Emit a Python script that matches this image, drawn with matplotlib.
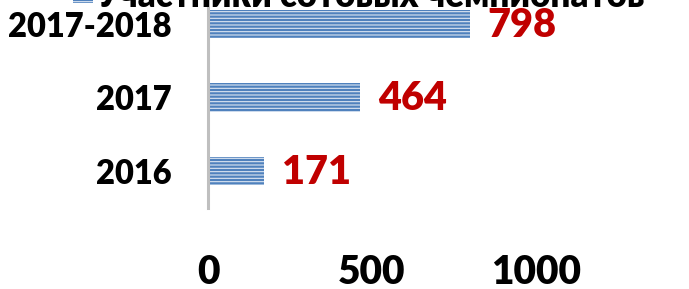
import matplotlib.pyplot as plt
from matplotlib.patches import Rectangle

# data
categories = ['2016', '2017', '2017-2018']
participants = [171, 464, 798]
series_name = 'Участники сотовых чемпионатов'
x_ticks = [0, 500, 1000]

plt.rcParams['font.family'] = ['Lato', 'Open Sans', 'DejaVu Sans']
plt.rcParams['hatch.linewidth'] = 0.8
WEIGHT = 'heavy'

W, H = 689, 289
fig = plt.figure(figsize=(W / 100, H / 100), dpi=100)
# plot area runs off the top of the image, like the cropped original
ax = fig.add_axes([208 / W, (H - 207.75) / H, 328 / W, 220.5 / H])

bars = ax.barh(range(len(categories)), participants, height=0.39,
               color='#4F81BD', edgecolor='#DCE6F2', linewidth=0, hatch='-----')

for i, v in enumerate(participants):
    ax.annotate(str(v), xy=(v, i), xytext=(13, -1), textcoords='offset points',
                va='center', ha='left', color='#C00000', fontsize=28.5,
                fontweight=WEIGHT, annotation_clip=False)

ax.set_xlim(0, 1000)
ax.set_ylim(-0.5, len(categories) - 0.5)
ax.set_xticks(x_ticks)
ax.set_xticklabels([str(t) for t in x_ticks], fontsize=28, fontweight=WEIGHT)
ax.set_yticks(range(len(categories)))
ax.set_yticklabels(categories, fontsize=23.5, fontweight=WEIGHT)
ax.tick_params(axis='x', length=0, pad=33)
ax.tick_params(axis='y', length=0, pad=26)

for side in ['top', 'right', 'bottom']:
    ax.spines[side].set_visible(False)
ax.spines['left'].set_color('#BFBFBF')
ax.spines['left'].set_linewidth(2.2)

# legend (cut off at the top of the image)
fig.patches.append(Rectangle((73 / W, (H - 3) / H), 20 / W, 20 / H,
                             transform=fig.transFigure, facecolor='#4F81BD',
                             edgecolor='#DCE6F2', linewidth=0, hatch='-----'))
fig.text(97 / W, (H - 7) / H, series_name, fontsize=25, fontweight=WEIGHT,
         va='baseline', ha='left')

fig.savefig('out.png', dpi=100)
